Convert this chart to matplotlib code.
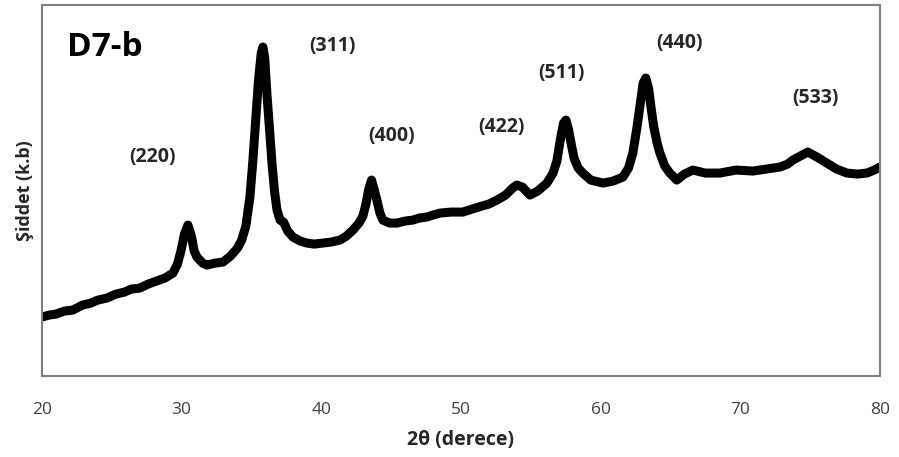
import numpy as np
import matplotlib
matplotlib.use("Agg")
import matplotlib.pyplot as plt

plt.rcParams['font.family'] = ['Open Sans', 'DejaVu Sans']

# XRD trace (2theta in degrees, intensity in arbitrary units)
two_theta = [20.0, 20.5, 21.0, 21.6, 22.2, 22.9, 23.5, 24.0, 24.65, 25.3,
             25.9, 26.4, 27.0, 27.6, 28.2, 28.8, 29.38, 29.7, 29.95, 30.2,
             30.45, 30.7, 30.9, 31.1, 31.5, 31.81, 32.4, 32.96, 33.5, 34.0,
             34.3, 34.6, 34.89, 35.1, 35.3, 35.5, 35.7, 35.82, 35.95, 36.11,
             36.3, 36.47, 36.65, 36.83, 37.05, 37.3, 37.6, 37.97, 38.5, 38.97,
             39.5, 40.12, 40.7, 41.34, 41.8, 42.27, 42.7, 42.98, 43.2, 43.4,
             43.6, 43.8, 43.98, 44.2, 44.41, 44.9, 45.42, 46.0, 46.56, 47.0,
             47.56, 48.0, 48.5, 49.3, 50.14, 50.8, 51.5, 52.0, 52.58, 53.2,
             53.7, 54.0, 54.4, 54.94, 55.5, 56.16, 56.6, 56.87, 57.1, 57.35,
             57.52, 57.7, 57.9, 58.1, 58.4, 58.73, 59.3, 60.17, 60.9, 61.6,
             62.0, 62.31, 62.6, 62.82, 63.05, 63.24, 63.45, 63.6, 63.8, 64.05,
             64.25, 64.6, 64.96, 65.46, 66.0, 66.61, 67.5, 68.54, 69.7, 70.91,
             71.9, 72.84, 73.4, 73.77, 74.3, 74.84, 75.5, 76.2, 76.9, 77.64,
             78.4, 79.07, 79.6, 80.0]
intensity = [59, 61, 62, 65, 66, 71, 73, 76, 78, 82,
             84, 87, 88, 92, 95, 98, 103, 112, 125, 142,
             151, 140, 125, 119, 113, 111, 113, 114, 120, 128,
             136, 150, 179, 215, 255, 295, 323, 329, 318, 282,
             245, 213, 185, 166, 156, 154, 145, 139, 135, 133,
             132, 133, 134, 136, 140, 146, 153, 160, 172, 187,
             196, 186, 176, 163, 156, 153, 153, 155, 156, 158,
             159, 161, 163, 164, 164, 167, 170, 172, 176, 181,
             188, 191, 189, 181, 185, 193, 203, 215, 235, 253,
             256, 247, 232, 218, 208, 203, 196, 193, 195, 199,
             208, 223, 248, 270, 293, 298, 287, 270, 250, 233,
             223, 210, 203, 196, 202, 206, 203, 203, 206, 205,
             207, 209, 212, 216, 220, 224, 219, 213, 207, 203,
             202, 203, 206, 209]

# peak labels (Miller indices) and where they sit
peak_labels = ['(220)', '(311)', '(400)', '(422)', '(511)', '(440)', '(533)']
label_x = [27.88, 40.83, 45.06, 52.93, 57.23, 65.67, 75.41]
label_y = [219, 330, 240, 249, 303, 333, 278]

xticks = [20, 30, 40, 50, 60, 70, 80]

fig = plt.figure(figsize=(8.99, 4.57), dpi=100)
ax = fig.add_axes([0.0467, 0.177, 0.932, 0.812])

ax.plot(two_theta, intensity, color='black', lw=6.5, solid_joinstyle='round',
        solid_capstyle='round')

for lab, lx, ly in zip(peak_labels, label_x, label_y):
    ax.text(lx, ly, lab, ha='center', va='center', fontsize=14,
            fontweight='bold', color='#262626')

ax.text(21.8, 329, 'D7-b', ha='left', va='center', fontsize=24,
        fontweight='bold', color='black')

ax.set_xlim(20, 80)
ax.set_ylim(0, 371)
ax.set_xticks(xticks)
ax.set_yticks([])
ax.tick_params(axis='x', length=0, pad=19, labelsize=12.5, labelcolor='#404040')

for sp in ax.spines.values():
    sp.set_color('#808080')
    sp.set_linewidth(1.5)

ax.set_xlabel('2θ (derece)', fontsize=14, fontweight='bold', color='#262626',
              labelpad=8)
ax.set_ylabel('Şiddet (k.b)', fontsize=13, fontweight='bold', color='#262626',
              labelpad=6)

fig.savefig('out.png', dpi=100)
